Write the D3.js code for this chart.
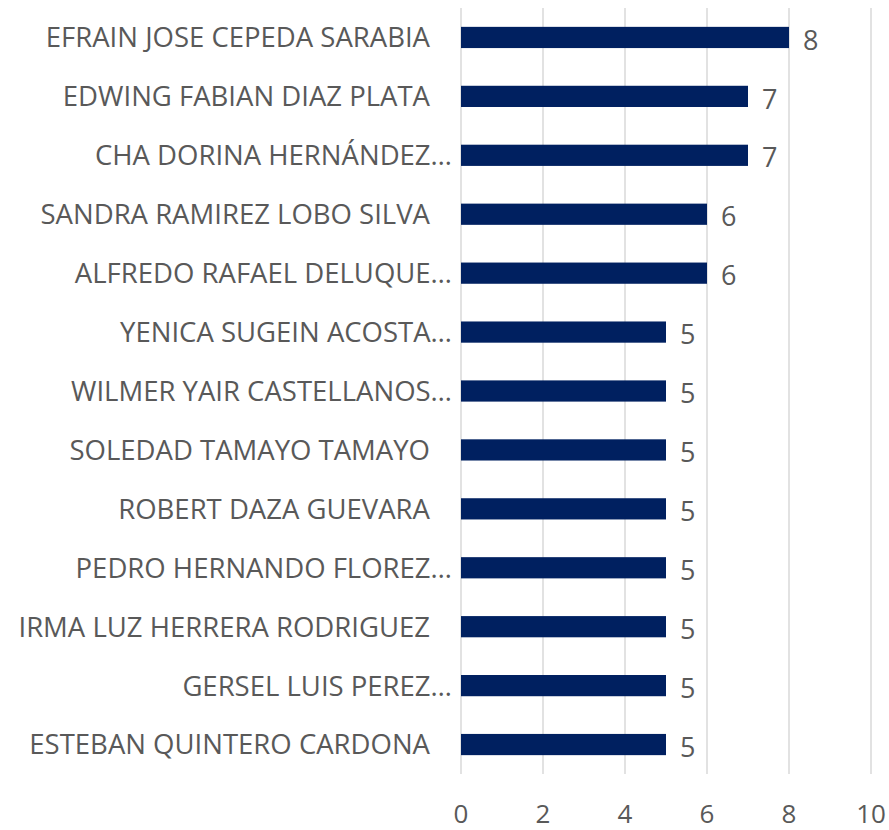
<!DOCTYPE html>
<html>
<head>
<meta charset="utf-8">
<script src="https://cdn.jsdelivr.net/npm/d3@7"></script>
<style>
  body { margin: 0; background: #fff; }
  svg text { font-family: "Open Sans", "Noto Sans", sans-serif; fill: #595959; }
</style>
</head>
<body>
<svg id="chart" width="889" height="830"></svg>
<script>
var names = [
	"EFRAIN JOSE CEPEDA SARABIA ",
	"EDWING FABIAN DIAZ PLATA ",
	"CHA DORINA HERNÁNDEZ…",
	"SANDRA RAMIREZ LOBO SILVA ",
	"ALFREDO RAFAEL DELUQUE…",
	"YENICA SUGEIN ACOSTA…",
	"WILMER YAIR CASTELLANOS…",
	"SOLEDAD TAMAYO TAMAYO ",
	"ROBERT DAZA GUEVARA ",
	"PEDRO HERNANDO FLOREZ…",
	"IRMA LUZ HERRERA RODRIGUEZ ",
	"GERSEL LUIS PEREZ…",
	"ESTEBAN QUINTERO CARDONA "
];
var counts = [8, 7, 7, 6, 6, 5, 5, 5, 5, 5, 5, 5, 5];
var xTicks = [0, 2, 4, 6, 8, 10];

var svg = d3.select("#chart");
var plotLeft = 461, plotRight = 871, plotTop = 8, plotBottom = 774;

var x = d3.scaleLinear().domain([0, 10]).range([plotLeft, plotRight]);
var y = d3.scaleBand().domain(d3.range(names.length)).range([plotTop, plotBottom]).paddingInner(0.64).paddingOuter(0.32);

// gridlines
svg.append("g").selectAll("line")
	.data(xTicks)
	.enter().append("line")
	.attr("x1", function (d) { return x(d); })
	.attr("x2", function (d) { return x(d); })
	.attr("y1", plotTop)
	.attr("y2", plotBottom)
	.attr("stroke", "#d9d9d9")
	.attr("stroke-width", 1.5);

// bars
svg.append("g").selectAll("rect")
	.data(counts)
	.enter().append("rect")
	.attr("x", x(0))
	.attr("y", function (d, i) { return y(i); })
	.attr("width", function (d) { return x(d) - x(0); })
	.attr("height", y.bandwidth())
	.attr("fill", "#002060");

// value labels
svg.append("g").selectAll("text")
	.data(counts)
	.enter().append("text")
	.attr("x", function (d) { return x(d) + 14; })
	.attr("y", function (d, i) { return y(i) + y.bandwidth() / 2; })
	.attr("dy", "0.45em")
	.attr("font-size", 27)
	.text(function (d) { return d; });

// category labels (svg drops the trailing space, so keep its gap by hand)
svg.append("g").selectAll("text")
	.data(names)
	.enter().append("text")
	.attr("x", function (d) { return / $/.test(d) ? 430 : 452; })
	.attr("y", function (d, i) { return y(i) + y.bandwidth() / 2; })
	.attr("dy", "0.36em")
	.attr("text-anchor", "end")
	.attr("font-size", 27.5)
	.text(function (d) { return d.trim(); });

// x axis tick labels
svg.append("g").selectAll("text")
	.data(xTicks)
	.enter().append("text")
	.attr("x", function (d) { return x(d); })
	.attr("y", 814)
	.attr("dy", "0.36em")
	.attr("text-anchor", "middle")
	.attr("font-size", 26)
	.text(function (d) { return d; });
</script>
</body>
</html>
